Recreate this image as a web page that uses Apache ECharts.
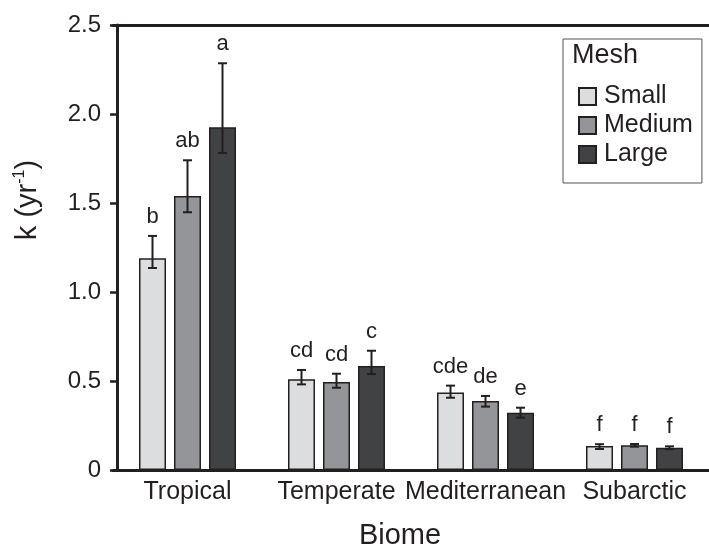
<!DOCTYPE html>
<html>
<head>
<meta charset="UTF-8">
<script src="https://cdn.jsdelivr.net/npm/echarts@6/dist/echarts.min.js"></script>
<style>
  html, body { margin: 0; padding: 0; background: #fff; }
  #main { width: 709px; height: 551px; }
</style>
</head>
<body>
<div id="main"></div>
<script>
  var biomes = ['Tropical', 'Temperate', 'Mediterranean', 'Subarctic'];
  var meshNames = ['Small', 'Medium', 'Large'];
  var meshColors = ['#dcdddf', '#939598', '#414244'];

  // mean k per biome, one array per mesh size
  var small = [1.19, 0.51, 0.435, 0.135];
  var medium = [1.54, 0.495, 0.388, 0.139];
  var large = [1.925, 0.584, 0.322, 0.125];

  // error bar ends (upper / lower)
  var smallHi = [1.315, 0.562, 0.474, 0.145];
  var smallLo = [1.135, 0.481, 0.406, 0.118];
  var mediumHi = [1.74, 0.541, 0.416, 0.146];
  var mediumLo = [1.448, 0.462, 0.356, 0.131];
  var largeHi = [2.285, 0.670, 0.350, 0.133];
  var largeLo = [1.781, 0.539, 0.294, 0.117];

  // significance letters
  var smallTxt = ['b', 'cd', 'cde', 'f'];
  var mediumTxt = ['ab', 'cd', 'de', 'f'];
  var largeTxt = ['a', 'c', 'e', 'f'];

  var yTicks = ['0', '0.5', '1.0', '1.5', '2.0', '2.5'];

  var means = [small, medium, large];
  var highs = [smallHi, mediumHi, largeHi];
  var lows = [smallLo, mediumLo, largeLo];
  var letters = [smallTxt, mediumTxt, largeTxt];

  var ink = '#231f20';
  var font = 'Liberation Sans, Arial, sans-serif';
  var barW = 27;
  var gapW = 8;

  var chart = echarts.init(document.getElementById('main'));

  var series = [];
  meshNames.forEach(function (name, i) {
    series.push({
      name: name,
      type: 'bar',
      barWidth: barW,
      barGap: (gapW / barW * 100) + '%',
      data: means[i],
      itemStyle: { color: meshColors[i], borderColor: ink, borderWidth: 1.5 },
      z: 2
    });
  });
  meshNames.forEach(function (name, i) {
    var offset = (i - 1) * (barW + gapW);
    series.push({
      type: 'custom',
      z: 5,
      data: biomes.map(function (b, j) { return [j, highs[i][j], lows[i][j]]; }),
      renderItem: function (params, api) {
        var j = api.value(0);
        var top = api.coord([j, api.value(1)]);
        var bot = api.coord([j, api.value(2)]);
        var x = top[0] + offset;
        var cap = 4.5;
        var st = { stroke: ink, lineWidth: 2 };
        return {
          type: 'group',
          children: [
            { type: 'line', shape: { x1: x, y1: top[1], x2: x, y2: bot[1] }, style: st },
            { type: 'line', shape: { x1: x - cap, y1: top[1], x2: x + cap, y2: top[1] }, style: st },
            { type: 'line', shape: { x1: x - cap, y1: bot[1], x2: x + cap, y2: bot[1] }, style: st },
            { type: 'text', x: x, y: top[1] - 8,
              style: { text: letters[i][j], fill: ink, font: '22px ' + font,
                       textAlign: 'center', textVerticalAlign: 'bottom' } }
          ]
        };
      }
    });
  });

  var option = {
    animation: false,
    grid: { left: 113, right: 0, top: 25, bottom: 81 },
    legend: {
      data: meshNames,
      orient: 'vertical',
      left: 563,
      top: 39,
      padding: [45, 9, 16, 15],
      borderColor: '#555',
      borderWidth: 1,
      itemWidth: 17,
      itemHeight: 17,
      itemGap: 4,
      icon: 'rect',
      textStyle: { color: ink, fontSize: 25, fontFamily: font, lineHeight: 24, padding: [0, 0, 0, 3] }
    },
    xAxis: [{
      type: 'category',
      data: biomes,
      axisLine: { lineStyle: { color: ink, width: 3 } },
      axisTick: { show: false },
      axisLabel: { color: ink, fontSize: 25, fontFamily: font, margin: 10, interval: 0, hideOverlap: false }
    }, {
      type: 'category',
      position: 'top',
      data: biomes,
      axisLine: { show: true, lineStyle: { color: ink, width: 3 } },
      axisTick: { show: false },
      axisLabel: { show: false }
    }],
    yAxis: {
      type: 'value',
      min: 0,
      max: 2.5,
      interval: 0.5,
      offset: -4,
      splitLine: { show: false },
      axisLine: { show: true, lineStyle: { color: ink, width: 3 } },
      axisTick: { show: true, length: 7, lineStyle: { color: ink, width: 2.5 } },
      axisLabel: {
        color: ink, fontSize: 24, fontFamily: font, margin: 16,
        formatter: function (v) { return yTicks[Math.round(v / 0.5)]; }
      }
    },
    graphic: [
      { type: 'text', left: 572, top: 42,
        style: { text: 'Mesh', fill: ink, font: '27px ' + font } },
      { type: 'text', x: 400, y: 536,
        style: { text: 'Biome', fill: ink, font: '29px ' + font, textAlign: 'center', textVerticalAlign: 'middle' } },
      { type: 'text', x: 28, y: 200, rotation: Math.PI / 2,
        style: {
          text: '{n|k (yr}{s|-1}{n|)}',
          textAlign: 'center', textVerticalAlign: 'middle',
          rich: {
            n: { fontSize: 29, fontFamily: font, fill: ink, lineHeight: 32 },
            s: { fontSize: 16, fontFamily: font, fill: ink, verticalAlign: 'top', lineHeight: 32, padding: [0, 0, 12, 0] }
          }
        } }
    ],
    series: series
  };
  chart.setOption(option);
</script>
</body>
</html>
